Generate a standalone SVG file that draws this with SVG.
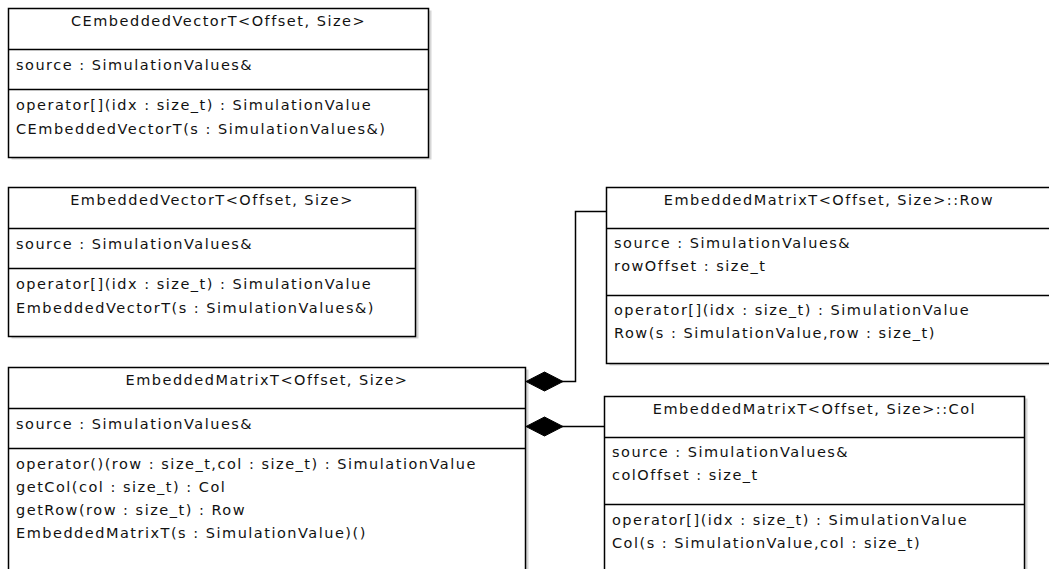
<svg xmlns="http://www.w3.org/2000/svg" width="1049" height="569" viewBox="0 0 1049 569">
<style>
.box{fill:#fff;stroke:#000;stroke-width:1.5}
.shadow{fill:#d6d6d6}
.sep{stroke:#000;stroke-width:1.5}
text{font-family:"DejaVu Sans",Verdana,sans-serif;font-size:14.5px;fill:#111;letter-spacing:1.5px}
.t{text-anchor:middle}
.conn{fill:none;stroke:#000;stroke-width:1.5}
.dia{fill:#000;stroke:#000;stroke-width:1}
</style>
<rect width="1049" height="569" fill="#fff"/>
<g id="CEmbeddedVectorT">
<rect class="shadow" x="11.5" y="10.5" width="420" height="149"/>
<rect class="box" x="8.5" y="8.5" width="420" height="149"/>
<line class="sep" x1="8.5" y1="49.5" x2="428.5" y2="49.5"/>
<line class="sep" x1="8.5" y1="89.5" x2="428.5" y2="89.5"/>
<text class="t" x="218.5" y="26">CEmbeddedVectorT&lt;Offset, Size&gt;</text>
<text x="16" y="70">source : SimulationValues&amp;</text>
<text x="16" y="110">operator[](idx : size_t) : SimulationValue</text>
<text x="16" y="133.5">CEmbeddedVectorT(s : SimulationValues&amp;)</text>
</g>
<g id="EmbeddedVectorT">
<rect class="shadow" x="11.5" y="189.5" width="407" height="149"/>
<rect class="box" x="8.5" y="187.5" width="407" height="149"/>
<line class="sep" x1="8.5" y1="228.5" x2="415.5" y2="228.5"/>
<line class="sep" x1="8.5" y1="268.5" x2="415.5" y2="268.5"/>
<text class="t" x="212" y="205">EmbeddedVectorT&lt;Offset, Size&gt;</text>
<text x="16" y="249">source : SimulationValues&amp;</text>
<text x="16" y="289">operator[](idx : size_t) : SimulationValue</text>
<text x="16" y="312.5">EmbeddedVectorT(s : SimulationValues&amp;)</text>
</g>
<g id="EmbeddedMatrixT">
<rect class="shadow" x="11.5" y="369.5" width="517" height="220"/>
<rect class="box" x="8.5" y="367.5" width="517" height="220"/>
<line class="sep" x1="8.5" y1="408.5" x2="525.5" y2="408.5"/>
<line class="sep" x1="8.5" y1="448.5" x2="525.5" y2="448.5"/>
<text class="t" x="267" y="385">EmbeddedMatrixT&lt;Offset, Size&gt;</text>
<text x="16" y="429">source : SimulationValues&amp;</text>
<text x="16" y="469">operator()(row : size_t,col : size_t) : SimulationValue</text>
<text x="16" y="492">getCol(col : size_t) : Col</text>
<text x="16" y="515">getRow(row : size_t) : Row</text>
<text x="16" y="538">EmbeddedMatrixT(s : SimulationValue)()</text>
</g>
<g id="Row">
<rect class="shadow" x="609.5" y="189.5" width="450" height="176"/>
<rect class="box" x="606.5" y="187.5" width="450" height="176"/>
<line class="sep" x1="606.5" y1="228.5" x2="1056.5" y2="228.5"/>
<line class="sep" x1="606.5" y1="295.5" x2="1056.5" y2="295.5"/>
<text class="t" x="829" y="205">EmbeddedMatrixT&lt;Offset, Size&gt;::Row</text>
<text x="614" y="248">source : SimulationValues&amp;</text>
<text x="614" y="271">rowOffset : size_t</text>
<text x="614" y="315">operator[](idx : size_t) : SimulationValue</text>
<text x="614" y="338">Row(s : SimulationValue,row : size_t)</text>
</g>
<g id="Col">
<rect class="shadow" x="607.5" y="398.5" width="420" height="190"/>
<rect class="box" x="604.5" y="396.5" width="420" height="190"/>
<line class="sep" x1="604.5" y1="437.5" x2="1024.5" y2="437.5"/>
<line class="sep" x1="604.5" y1="504.5" x2="1024.5" y2="504.5"/>
<text class="t" x="814.5" y="414">EmbeddedMatrixT&lt;Offset, Size&gt;::Col</text>
<text x="612" y="457">source : SimulationValues&amp;</text>
<text x="612" y="480">colOffset : size_t</text>
<text x="612" y="525">operator[](idx : size_t) : SimulationValue</text>
<text x="612" y="548">Col(s : SimulationValue,col : size_t)</text>
</g>
<g id="connectors">
<polyline class="conn" points="606.5,211.5 575.5,211.5 575.5,381.5 562,381.5"/>
<polygon class="dia" points="526,381.5 544.5,372 563,381.5 544.5,391"/>
<line class="conn" x1="604.5" y1="426.5" x2="562" y2="426.5"/>
<polygon class="dia" points="526,426.5 544.5,417 563,426.5 544.5,436"/>
</g>
</svg>
